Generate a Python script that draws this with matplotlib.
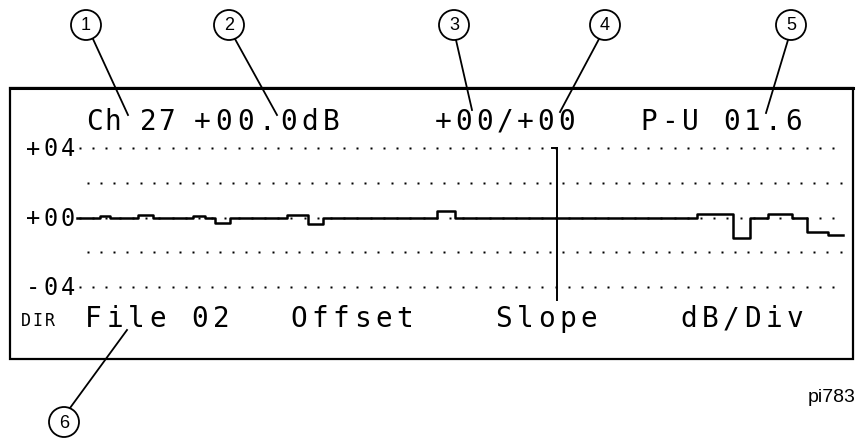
import matplotlib
matplotlib.use("Agg")
import matplotlib.pyplot as plt
from matplotlib.patches import Circle, Rectangle
import numpy as np

# trace: step edges across the span (percent of span) and the level of each step in dB
step_edges = [0, 3.0, 4.3, 7.9, 9.9, 15.1, 16.7, 18.0, 19.9, 27.3, 30.1, 32.0,
              46.9, 49.2, 80.7, 85.4, 87.6, 90.0, 93.1, 95.1, 97.8, 99.7]
step_levels = [0.0, 0.1, 0.0, 0.12, 0.0, 0.1, 0.0, -0.3, 0.0, 0.12, -0.4, 0.0,
               0.35, 0.0, 0.2, -1.2, 0.0, 0.2, 0.0, -0.85, -1.0]

scale_labels = ["+04", "+00", "-04"]
scale_values = [4, 0, -4]
grid_values = [4, 2, 0, -2, -4]
cursor_pos = 62.5

top_fields = ["Ch 27", "+00.0dB", "+00/+00", "P-U 01.6"]
bottom_fields = ["File 02", "Offset", "Slope", "dB/Div"]
callouts = ["1", "2", "3", "4", "5", "6"]
figure_id = "pi783"

W, H = 858, 441
LCD = "DejaVu Sans Mono"


def px_axes(fig, x0, y0, x1, y1):
    return fig.add_axes([x0 / W, 1 - y1 / H, (x1 - x0) / W, (y1 - y0) / H])


def lcd_text(ax, x, y, s, pitch, size, **kw):
    # fixed character cells like the instrument display
    for i, ch in enumerate(s):
        if ch == " ":
            continue
        ax.text(x + i * pitch + 6.5, y, ch, ha="center", va="center",
                fontsize=size, family=LCD, **kw)


def main():
    fig = plt.figure(figsize=(W / 100, H / 100), dpi=100)
    fig.patch.set_facecolor("white")

    # overlay in pixel units for the frame, text and callouts
    ov = fig.add_axes([0, 0, 1, 1])
    ov.set_xlim(0, W)
    ov.set_ylim(H, 0)
    ov.axis("off")

    ov.add_patch(Rectangle((10, 88), 843, 271, fill=False, lw=1.6, ec="black"))
    ov.plot([10, 853], [88, 88], color="black", lw=2.2)

    # graticule + trace
    ax = px_axes(fig, 77, 148, 845, 287)
    ax.set_xlim(0, 100)
    ax.set_ylim(-4, 4)
    ax.axis("off")

    for g in grid_values:
        start = 0.4 if g in scale_values else 1.4
        xs = np.arange(start, 100, 1.72)
        ax.plot(xs, np.full_like(xs, g), ls="none", marker="s", ms=1.5,
                color="black", mec="none", clip_on=False)

    ax.step(step_edges, step_levels + [step_levels[-1]], where="post",
            color="black", lw=1.8, clip_on=False)

    ax.plot([cursor_pos, cursor_pos], [4, -4.75], color="black", lw=1.4, clip_on=False)
    ax.plot([cursor_pos - 0.6, cursor_pos], [4, 4], color="black", lw=1.4, clip_on=False)

    for lab, v in zip(scale_labels, scale_values):
        y = 148 + (4 - v) * (287 - 148) / 8
        lcd_text(ov, 27, y + 1, lab, 17, 17)

    top_x = [88, 196, 437, 642]
    top_pitch = [18, 21.5, 20.5, 20.7]
    for x, p, s in zip(top_x, top_pitch, top_fields):
        lcd_text(ov, x, 122, s, p, 20)

    lcd_text(ov, 19, 321, "DIR", 12, 12)
    bottom_x = [87, 292, 497, 682]
    for x, s in zip(bottom_x, bottom_fields):
        lcd_text(ov, x, 319, s, 21.3, 20)

    # numbered callouts with leader lines
    centers = [(86, 25), (229, 25), (454, 25), (605, 25), (791, 25), (64, 422)]
    leaders = [((93, 39), (128, 115)), ((235, 39), (277, 115)), ((456, 40), (472, 110)),
               ((599, 39), (560, 112)), ((788, 40), (766, 113)), ((127, 330), (70, 408))]
    for (cx, cy), num in zip(centers, callouts):
        ov.add_patch(Circle((cx, cy), 15, fill=False, lw=1.3, ec="black"))
        ov.text(cx, cy + 1, num, ha="center", va="center", fontsize=13,
                family="Liberation Sans")
    for (x0, y0), (x1, y1) in leaders:
        ov.plot([x0, x1], [y0, y1], color="black", lw=1.3)

    ov.text(856, 397, figure_id, ha="right", va="center", fontsize=14,
            family="Liberation Sans")

    fig.savefig("out.png", dpi=100)


if __name__ == "__main__":
    main()
